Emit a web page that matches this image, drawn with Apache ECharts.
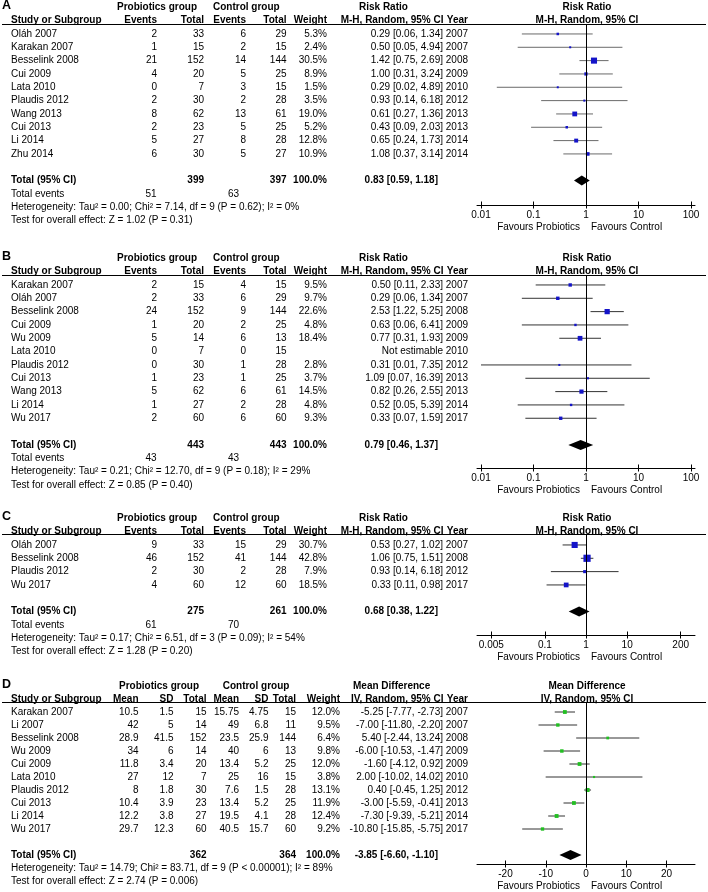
<!DOCTYPE html>
<html><head><meta charset="utf-8">
<script src="https://cdn.jsdelivr.net/npm/echarts@6.0.0/dist/echarts.min.js"></script>
<style>html,body{margin:0;padding:0;background:#fff}#c{width:708px;height:892px}</style>
</head><body><div id="c"></div>
<script>
// ---------------- Panel A (Risk Ratio) ----------------
const studiesA = ['Oláh 2007','Karakan 2007','Besselink 2008','Cui 2009','Lata 2010','Plaudis 2012','Wang 2013','Cui 2013','Li 2014','Zhu 2014'];
const probEventsA = [2,1,21,4,0,2,8,2,5,6];
const probTotalA = [33,15,152,20,7,30,62,23,27,30];
const ctrlEventsA = [6,2,14,5,3,2,13,5,8,5];
const ctrlTotalA = [29,15,144,25,15,28,61,25,28,27];
const weightA = [5.3,2.4,30.5,8.9,1.5,3.5,19.0,5.2,12.8,10.9];
const rrA = [0.29,0.50,1.42,1.00,0.29,0.93,0.61,0.43,0.65,1.08];
const loA = [0.06,0.05,0.75,0.31,0.02,0.14,0.27,0.09,0.24,0.37];
const hiA = [1.34,4.94,2.69,3.24,4.89,6.18,1.36,2.03,1.73,3.14];
const yearA = [2007,2007,2008,2009,2010,2012,2013,2013,2014,2014];
const totalA = [399,397];            // participants: probiotics, control
const totalEventsA = [51,63];
const pooledA = [0.83,0.59,1.18];    // estimate, lower, upper
const hetA = 'Heterogeneity: Tau² = 0.00; Chi² = 7.14, df = 9 (P = 0.62); I² = 0%';
const testA = 'Test for overall effect: Z = 1.02 (P = 0.31)';
const ticksA = [0.01,0.1,1,10,100];

// ---------------- Panel B (Risk Ratio) ----------------
const studiesB = ['Karakan 2007','Oláh 2007','Besselink 2008','Cui 2009','Wu 2009','Lata 2010','Plaudis 2012','Cui 2013','Wang 2013','Li 2014','Wu 2017'];
const probEventsB = [2,2,24,1,5,0,0,1,5,1,2];
const probTotalB = [15,33,152,20,14,7,30,23,62,27,60];
const ctrlEventsB = [4,6,9,2,6,0,1,1,6,2,6];
const ctrlTotalB = [15,29,144,25,13,15,28,25,61,28,60];
const weightB = [9.5,9.7,22.6,4.8,18.4,null,2.8,3.7,14.5,4.8,9.3];
const rrB = [0.50,0.29,2.53,0.63,0.77,null,0.31,1.09,0.82,0.52,0.33];
const loB = [0.11,0.06,1.22,0.06,0.31,null,0.01,0.07,0.26,0.05,0.07];
const hiB = [2.33,1.34,5.25,6.41,1.93,null,7.35,16.39,2.55,5.39,1.59];
const yearB = [2007,2007,2008,2009,2009,2010,2012,2013,2013,2014,2017];
const totalB = [443,443];
const totalEventsB = [43,43];
const pooledB = [0.79,0.46,1.37];
const hetB = 'Heterogeneity: Tau² = 0.21; Chi² = 12.70, df = 9 (P = 0.18); I² = 29%';
const testB = 'Test for overall effect: Z = 0.85 (P = 0.40)';
const ticksB = [0.01,0.1,1,10,100];

// ---------------- Panel C (Risk Ratio) ----------------
const studiesC = ['Oláh 2007','Besselink 2008','Plaudis 2012','Wu 2017'];
const probEventsC = [9,46,2,4];
const probTotalC = [33,152,30,60];
const ctrlEventsC = [15,41,2,12];
const ctrlTotalC = [29,144,28,60];
const weightC = [30.7,42.8,7.9,18.5];
const rrC = [0.53,1.06,0.93,0.33];
const loC = [0.27,0.75,0.14,0.11];
const hiC = [1.02,1.51,6.18,0.98];
const yearC = [2007,2008,2012,2017];
const totalC = [275,261];
const totalEventsC = [61,70];
const pooledC = [0.68,0.38,1.22];
const hetC = 'Heterogeneity: Tau² = 0.17; Chi² = 6.51, df = 3 (P = 0.09); I² = 54%';
const testC = 'Test for overall effect: Z = 1.28 (P = 0.20)';
const ticksC = [0.005,0.1,1,10,200];

// ---------------- Panel D (Mean Difference) ----------------
const studiesD = ['Karakan 2007','Li 2007','Besselink 2008','Wu 2009','Cui 2009','Lata 2010','Plaudis 2012','Cui 2013','Li 2014','Wu 2017'];
const probMeanD = [10.5,42,28.9,34,11.8,27,8,10.4,12.2,29.7];
const probSdD = [1.5,5,41.5,6,3.4,12,1.8,3.9,3.8,12.3];
const probTotalD = [15,14,152,14,20,7,30,23,27,60];
const ctrlMeanD = [15.75,49,23.5,40,13.4,25,7.6,13.4,19.5,40.5];
const ctrlSdD = [4.75,6.8,25.9,6,5.2,16,1.5,5.2,4.1,15.7];
const ctrlTotalD = [15,11,144,13,25,15,28,25,28,60];
const weightD = [12.0,9.5,6.4,9.8,12.0,3.8,13.1,11.9,12.4,9.2];
const mdD = [-5.25,-7.00,5.40,-6.00,-1.60,2.00,0.40,-3.00,-7.30,-10.80];
const loD = [-7.77,-11.80,-2.44,-10.53,-4.12,-10.02,-0.45,-5.59,-9.39,-15.85];
const hiD = [-2.73,-2.20,13.24,-1.47,0.92,14.02,1.25,-0.41,-5.21,-5.75];
const yearD = [2007,2007,2008,2009,2009,2010,2012,2013,2014,2017];
const totalD = [362,364];
const pooledD = [-3.85,-6.60,-1.10];
const hetD = 'Heterogeneity: Tau² = 14.79; Chi² = 83.71, df = 9 (P < 0.00001); I² = 89%';
const testD = 'Test for overall effect: Z = 2.74 (P = 0.006)';
const ticksD = [-20,-10,0,10,20];

// ---------------- layout (pixels) ----------------
const FONT = '"Liberation Sans", Arial, Helvetica, sans-serif';
const PLOT_L = 477, PLOT_R = 695;
const LAYOUT = [
  {hdr:7.3,   rowH:13.33, lineY:24.5,  axisY:205},
  {hdr:258.3, rowH:13.33, lineY:275.5, axisY:468},
  {hdr:518.3, rowH:13.33, lineY:534.5, axisY:635},
  {hdr:686,   rowH:13.0,  lineY:702.5, axisY:864}
];
const RRX = {pe:157, pt:204, ce:246, ct:286.5, w:327, evP:156.5, evC:239};
const MDX = {pm:138.5, psd:173.5, pt:206.5, cm:239, csd:268.5, ct:296, w:340};

const f2 = v => v.toFixed(2);
const ciStr = (e,l,h) => f2(e) + ' [' + f2(l) + ', ' + f2(h) + ']';
const pct = v => v == null ? '' : v.toFixed(1) + '%';

function makeCells(P, L) {
  const c = [];
  const add = (k, x, t, a, b, s, rel) => c.push({k:k, x:x, t:String(t), a:a, b:!!b, s:s||10, rel:!!rel});
  c.push({line:true, k:(L.lineY - L.hdr) / L.rowH});
  add(-1.5 / L.rowH, 2, P.letter, 'left', true, 12.5);
  P.groups.forEach(g => add(0, g.x, g.t, 'left', true));
  add(0, P.titleX, P.title, 'left', true);
  add(0, 1, P.title, 'center', true, 10, true);
  add(1, 11, 'Study or Subgroup', 'left', true);
  P.cols.forEach(col => add(1, col.x, col.h, 'right', true));
  add(1, 443.5, P.sub, 'right', true);
  add(1, 468, 'Year', 'right', true);
  add(1, 1, P.sub, 'center', true, 10, true);
  const n = P.studies.length;
  for (let i = 0; i < n; i++) {
    const k = 2 + i;
    add(k, 11, P.studies[i], 'left');
    P.cols.forEach(col => { const v = col.vals[i]; if (v !== '') add(k, col.x, v, 'right'); });
    add(k, 443, P.ci[i], 'right');
    add(k, 468, P.years[i], 'right');
  }
  const kt = 2 + n + 1;
  add(kt, 11, 'Total (95% CI)', 'left', true);
  P.totCols.forEach(tc => add(kt, tc.x, tc.t, 'right', true));
  add(kt, 438, P.totCI, 'right', true);
  let k = kt + 1;
  if (P.events) {
    add(k, 11, 'Total events', 'left');
    P.events.forEach(e => add(k, e.x, e.t, 'right'));
    k++;
  }
  add(k, 11, P.het, 'left'); k++;
  add(k, 11, P.test, 'left');
  const kf = (L.axisY + 22.5 - L.hdr) / L.rowH;
  add(kf, -6, 'Favours Probiotics', 'right', false, 10, true);
  add(kf, 5, 'Favours Control', 'left', false, 10, true);
  return c;
}

function rrPanel(letter, st, pe, pt, ce, ct, w, rr, lo, hi, yr, tot, ev, pooled, het, test) {
  return {
    letter: letter, studies: st, years: yr,
    groups: [{t:'Probiotics group', x:117}, {t:'Control group', x:213}],
    title: 'Risk Ratio', titleX: 359, sub: 'M-H, Random, 95% CI',
    cols: [
      {h:'Events', x:RRX.pe, vals:pe.map(String)},
      {h:'Total', x:RRX.pt, vals:pt.map(String)},
      {h:'Events', x:RRX.ce, vals:ce.map(String)},
      {h:'Total', x:RRX.ct, vals:ct.map(String)},
      {h:'Weight', x:RRX.w, vals:w.map(pct)}
    ],
    ci: rr.map((e,i) => e == null ? 'Not estimable' : ciStr(e, lo[i], hi[i])),
    totCols: [{x:RRX.pt, t:tot[0]}, {x:RRX.ct, t:tot[1]}, {x:RRX.w, t:'100.0%'}],
    totCI: ciStr(pooled[0], pooled[1], pooled[2]),
    events: [{x:RRX.evP, t:ev[0]}, {x:RRX.evC, t:ev[1]}],
    het: het, test: test,
    est: rr, lo: lo, hi: hi, w: w, pooled: pooled
  };
}

const panels = [
  Object.assign(rrPanel('A', studiesA, probEventsA, probTotalA, ctrlEventsA, ctrlTotalA, weightA, rrA, loA, hiA, yearA, totalA, totalEventsA, pooledA, hetA, testA),
    {type:'log', ref:1, decade:52.5, ticks:ticksA, color:'#1414c8', ciColor:'#6a6a6a'}),
  Object.assign(rrPanel('B', studiesB, probEventsB, probTotalB, ctrlEventsB, ctrlTotalB, weightB, rrB, loB, hiB, yearB, totalB, totalEventsB, pooledB, hetB, testB),
    {type:'log', ref:1, decade:52.5, ticks:ticksB, color:'#1414c8', ciColor:'#333'}),
  Object.assign(rrPanel('C', studiesC, probEventsC, probTotalC, ctrlEventsC, ctrlTotalC, weightC, rrC, loC, hiC, yearC, totalC, totalEventsC, pooledC, hetC, testC),
    {type:'log', ref:1, decade:41.15, ticks:ticksC, color:'#1414c8', ciColor:'#333'}),
  {
    letter:'D', studies: studiesD, years: yearD,
    groups: [{t:'Probiotics group', x:119}, {t:'Control group', x:222.7}],
    title: 'Mean Difference', titleX: 353, sub: 'IV, Random, 95% CI',
    cols: [
      {h:'Mean', x:MDX.pm, vals:probMeanD.map(String)},
      {h:'SD', x:MDX.psd, vals:probSdD.map(String)},
      {h:'Total', x:MDX.pt, vals:probTotalD.map(String)},
      {h:'Mean', x:MDX.cm, vals:ctrlMeanD.map(String)},
      {h:'SD', x:MDX.csd, vals:ctrlSdD.map(String)},
      {h:'Total', x:MDX.ct, vals:ctrlTotalD.map(String)},
      {h:'Weight', x:MDX.w, vals:weightD.map(pct)}
    ],
    ci: mdD.map((e,i) => ciStr(e, loD[i], hiD[i])),
    totCols: [{x:MDX.pt, t:totalD[0]}, {x:MDX.ct, t:totalD[1]}, {x:MDX.w, t:'100.0%'}],
    totCI: ciStr(pooledD[0], pooledD[1], pooledD[2]),
    events: null, het: hetD, test: testD,
    est: mdD, lo: loD, hi: hiD, w: weightD, pooled: pooledD,
    type:'value', ref:0, unitPx:4.025, ticks:ticksD, color:'#22bf22', ciColor:'#333'
  }
];

const grids = [], xAxes = [], yAxes = [], series = [];
const half = (PLOT_R - PLOT_L) / 2;

panels.forEach((P, g) => {
  const L = LAYOUT[g];
  grids.push({left:PLOT_L, top:L.lineY, width:PLOT_R - PLOT_L, height:L.axisY - L.lineY, outerBoundsMode:'none', containLabel:false});
  yAxes.push({gridIndex:g, type:'value', inverse:true, min:(L.lineY - L.hdr) / L.rowH, max:(L.axisY - L.hdr) / L.rowH,
    show:false, splitLine:{show:false}});
  let min, max;
  if (P.type === 'log') { min = Math.pow(10, -half / P.decade); max = Math.pow(10, half / P.decade); }
  else { min = -half / P.unitPx; max = half / P.unitPx; }
  const ticks = P.ticks;
  const fmt = v => { let b = ticks[0]; ticks.forEach(t => { if (Math.abs(t - v) < Math.abs(b - v)) b = t; }); return String(b); };
  const base = {gridIndex:g, type:P.type, min:min, max:max, position:'bottom', splitLine:{show:false}};
  if (P.type === 'log') base.logBase = 10;
  xAxes.push(Object.assign({}, base, {
    axisLine:{show:true, onZero:false, lineStyle:{color:'#000', width:1}},
    axisTick:{show:true, length:3.5, customValues:ticks, lineStyle:{color:'#000', width:1}},
    axisLabel:{show:true, customValues:ticks, margin:5, color:'#000', fontSize:10, fontFamily:FONT, formatter:fmt}
  }));
  xAxes.push(Object.assign({}, base, {
    axisLine:{show:false},
    axisTick:{show:true, inside:true, length:3.5, customValues:ticks, lineStyle:{color:'#000', width:1}},
    axisLabel:{show:false}
  }));

  const cells = makeCells(P, L);
  const ref = P.ref;
  series.push({
    type:'custom', xAxisIndex:2 * g, yAxisIndex:g, silent:true, clip:false, z:5,
    encode:{x:0, y:1},
    data: cells.map(c => [ref, c.k]),
    renderItem: function (params, api) {
      const c = cells[params.dataIndex];
      const p = api.coord([ref, c.k]);
      if (c.line) return {type:'line', shape:{x1:2, y1:p[1], x2:706, y2:p[1]}, style:{stroke:'#000', lineWidth:1}};
      return {type:'text', x: c.rel ? p[0] + c.x : c.x, y: p[1],
        style:{text:c.t, fill:'#000', font:(c.b ? 'bold ' : '') + c.s + 'px ' + FONT,
          textAlign:c.a, textVerticalAlign:'middle', align:c.a, verticalAlign:'middle'}};
    }
  });

  const studyData = [];
  P.est.forEach((e, i) => { if (e != null) studyData.push([P.lo[i], P.hi[i], e, 2 + i, P.w[i]]); });
  series.push({
    type:'custom', xAxisIndex:2 * g, yAxisIndex:g, silent:true, clip:false, z:4,
    encode:{x:[0,1,2], y:3},
    data: studyData,
    renderItem: function (params, api) {
      const k = api.value(3);
      const a = api.coord([api.value(0), k]), b = api.coord([api.value(1), k]), m = api.coord([api.value(2), k]);
      const s = Math.max(2, 1.1 * Math.sqrt(api.value(4)));
      return {type:'group', children:[
        {type:'line', shape:{x1:a[0], y1:a[1], x2:b[0], y2:b[1]}, style:{stroke:P.ciColor, lineWidth:1}},
        {type:'rect', shape:{x:m[0] - s / 2, y:m[1] - s / 2, width:s, height:s}, style:{fill:P.color}}
      ]};
    }
  });

  const kt = 2 + P.studies.length + 1;
  series.push({
    type:'custom', xAxisIndex:2 * g, yAxisIndex:g, silent:true, clip:false, z:4,
    encode:{x:[0,1,2], y:3},
    data: [[P.pooled[1], P.pooled[2], P.pooled[0], kt]],
    renderItem: function (params, api) {
      const k = api.value(3);
      const a = api.coord([api.value(0), k]), b = api.coord([api.value(1), k]), m = api.coord([api.value(2), k]);
      return {type:'polygon', shape:{points:[[a[0], a[1]], [m[0], m[1] - 5], [b[0], b[1]], [m[0], m[1] + 5]]}, style:{fill:'#000'}};
    },
    markLine:{silent:true, symbol:'none', animation:false, label:{show:false},
      lineStyle:{color:'#000', width:1, type:'solid'}, data:[{xAxis:ref}]}
  });
});

const chart = echarts.init(document.getElementById('c'), null, {renderer:'canvas'});
chart.setOption({animation:false, backgroundColor:'#fff', grid:grids, xAxis:xAxes, yAxis:yAxes, series:series});
</script></body></html>
